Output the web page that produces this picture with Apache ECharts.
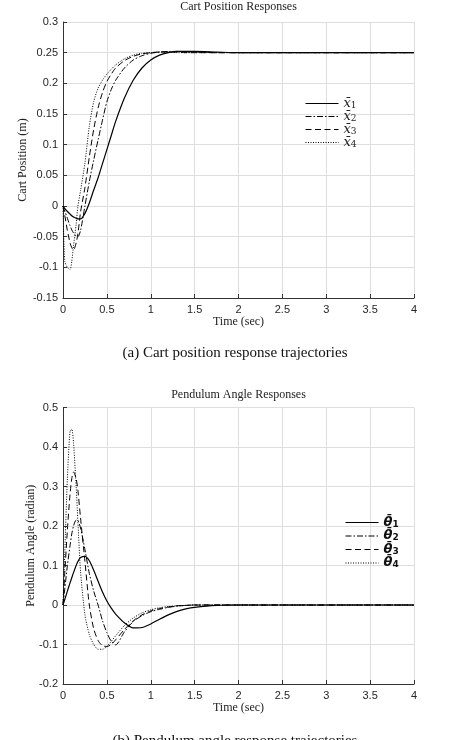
<!DOCTYPE html>
<html>
<head>
<meta charset="utf-8">
<script src="https://cdn.jsdelivr.net/npm/echarts@6/dist/echarts.min.js"></script>
<style>
  html, body { margin: 0; padding: 0; background: #fff; }
  #main { width: 460px; height: 740px; }
</style>
</head>
<body>
<div id="main"></div>
<script>
// time axis (sec) shared by all curves
const timeSec = [0, 0.02, 0.05, 0.08, 0.1, 0.12, 0.15, 0.17, 0.2, 0.25, 0.3, 0.35, 0.4, 0.45, 0.5, 0.55, 0.6, 0.7, 0.8, 0.9, 1.0, 1.1, 1.2, 1.3, 1.4, 1.5, 1.75, 2, 2.5, 3, 3.5, 4];

// cart position (m)
const cartX1 = [0, -0.004, -0.009, -0.013, -0.016, -0.018, -0.02, -0.021, -0.021, -0.012, 0.005, 0.026, 0.046, 0.069, 0.092, 0.115, 0.138, 0.176, 0.205, 0.225, 0.238, 0.246, 0.25, 0.252, 0.252, 0.252, 0.251, 0.25, 0.25, 0.25, 0.25, 0.25];
const cartX2 = [0, -0.008, -0.02, -0.032, -0.039, -0.044, -0.049, -0.05, -0.04, 0, 0.04, 0.075, 0.108, 0.14, 0.17, 0.19, 0.205, 0.225, 0.238, 0.245, 0.249, 0.251, 0.252, 0.252, 0.251, 0.251, 0.25, 0.25, 0.25, 0.25, 0.25, 0.25];
const cartX3 = [0, -0.015, -0.04, -0.06, -0.068, -0.072, -0.06, -0.045, -0.01, 0.03, 0.08, 0.125, 0.16, 0.185, 0.203, 0.215, 0.225, 0.237, 0.244, 0.248, 0.25, 0.251, 0.251, 0.251, 0.25, 0.25, 0.25, 0.25, 0.25, 0.25, 0.25, 0.25];
const cartX4 = [0, -0.09, -0.1, -0.104, -0.09, -0.065, -0.03, 0, 0.025, 0.07, 0.13, 0.17, 0.192, 0.205, 0.215, 0.223, 0.23, 0.24, 0.246, 0.249, 0.25, 0.251, 0.251, 0.25, 0.25, 0.25, 0.25, 0.25, 0.25, 0.25, 0.25, 0.25];

// pendulum angle (radian)
const angle1 = [0, 0.014, 0.035, 0.056, 0.069, 0.082, 0.1, 0.11, 0.12, 0.123, 0.112, 0.088, 0.06, 0.033, 0.01, -0.008, -0.023, -0.045, -0.058, -0.057, -0.048, -0.036, -0.025, -0.016, -0.01, -0.006, -0.001, 0, 0, 0, 0, 0];
const angle2 = [0, 0.04, 0.1, 0.15, 0.18, 0.2, 0.215, 0.214, 0.195, 0.14, 0.08, 0.035, 0, -0.04, -0.07, -0.092, -0.101, -0.068, -0.042, -0.027, -0.017, -0.011, -0.006, -0.003, -0.001, 0, 0, 0, 0, 0, 0, 0];
const angle3 = [0, 0.08, 0.19, 0.28, 0.32, 0.337, 0.32, 0.29, 0.22, 0.11, 0, -0.06, -0.09, -0.103, -0.105, -0.1, -0.088, -0.062, -0.04, -0.025, -0.015, -0.009, -0.005, -0.002, -0.001, 0, 0, 0, 0, 0, 0, 0];
const angle4 = [0, 0.13, 0.32, 0.44, 0.445, 0.41, 0.3, 0.21, 0.085, -0.025, -0.075, -0.1, -0.112, -0.112, -0.105, -0.092, -0.078, -0.052, -0.033, -0.02, -0.012, -0.007, -0.004, -0.002, -0.001, 0, 0, 0, 0, 0, 0, 0];

const cartNames = ['x̄1', 'x̄2', 'x̄3', 'x̄4'];
const angleNames = ['θ̄1', 'θ̄2', 'θ̄3', 'θ̄4'];

const axisColor = '#333';
const serif = 'Liberation Serif';
// solid, dash-dot, dashed, dotted
const lineTypes = ['solid', [6, 2, 1.5, 2], [6, 3.5], [1, 1.5]];

function pairs(ys) {
  return timeSec.map((t, i) => [t, ys[i]]);
}

function makeX(gridIndex) {
  return {
    gridIndex: gridIndex,
    type: 'value',
    min: 0,
    max: 4,
    interval: 0.5,
    name: 'Time (sec)',
    nameLocation: 'middle',
    nameGap: 18,
    nameMoveOverlap: false,
    nameTextStyle: { fontFamily: serif, fontSize: 12, color: '#222' },
    axisLine: { show: true, onZero: false, lineStyle: { color: axisColor, width: 1 } },
    axisTick: { show: true, inside: true, length: 4, lineStyle: { color: axisColor } },
    axisLabel: { margin: 6, fontFamily: 'Liberation Sans', fontSize: 11, color: '#262626' },
    splitLine: { show: true, lineStyle: { color: '#dedede', width: 1 } }
  };
}

function makeY(gridIndex, min, max, interval, name, gap) {
  return {
    gridIndex: gridIndex,
    type: 'value',
    min: min,
    max: max,
    interval: interval,
    name: name,
    nameLocation: 'middle',
    nameGap: gap,
    nameMoveOverlap: false,
    nameTextStyle: { fontFamily: serif, fontSize: 12, color: '#222' },
    axisLine: { show: true, onZero: false, lineStyle: { color: axisColor, width: 1 } },
    axisTick: { show: true, inside: true, length: 4, lineStyle: { color: axisColor } },
    axisLabel: {
      margin: 5, fontFamily: 'Liberation Sans', fontSize: 11, color: '#262626',
      formatter: (v) => String(Math.round(v * 100) / 100)
    },
    splitLine: { show: true, lineStyle: { color: '#dedede', width: 1 } }
  };
}

function makeSeries(names, datas, axisIndex) {
  return names.map((n, i) => ({
    name: n,
    type: 'line',
    xAxisIndex: axisIndex,
    yAxisIndex: axisIndex,
    data: pairs(datas[i]),
    symbol: 'none',
    smooth: 0.25,
    lineStyle: { color: '#000', width: i === 0 ? 1.2 : 1, type: lineTypes[i] },
    itemStyle: { color: '#000' }
  }));
}

const chart = echarts.init(document.getElementById('main'), null, { renderer: 'canvas' });

let option = {
  backgroundColor: '#fff',
  animation: false,
  title: [
    { text: 'Cart Position Responses', left: 238.5, top: 1, padding: 0, textAlign: 'center',
      textStyle: { fontFamily: serif, fontSize: 12, fontWeight: 'normal', color: '#222' } },
    { text: '(a) Cart position response trajectories', left: 230, top: 341, textAlign: 'center',
      textStyle: { fontFamily: serif, fontSize: 15, fontWeight: 'normal', color: '#111' } },
    { text: 'Pendulum Angle Responses', left: 238.5, top: 389, padding: 0, textAlign: 'center',
      textStyle: { fontFamily: serif, fontSize: 12, fontWeight: 'normal', color: '#222' } },
    { text: '(b) Pendulum angle response trajectories', left: 230, top: 729, textAlign: 'center',
      textStyle: { fontFamily: serif, fontSize: 15, fontWeight: 'normal', color: '#111' } }
  ],
  grid: [
    { left: 63, top: 22, width: 351, height: 276 },
    { left: 63, top: 407.5, width: 351, height: 276.5 }
  ],
  legend: [
    {
      data: cartNames,
      orient: 'vertical',
      left: 300,
      top: 92,
      itemWidth: 33,
      itemHeight: 10,
      itemGap: 0,
      itemStyle: { opacity: 0 },
      lineStyle: { width: 1 },
      formatter: (n) => '{b|x̄}{s|' + n.slice(-1) + '}',
      textStyle: {
        rich: {
          b: { fontFamily: 'DejaVu Serif', fontStyle: 'italic', fontSize: 13, lineHeight: 13, color: '#222' },
          s: { fontFamily: 'DejaVu Serif', fontSize: 9, lineHeight: 7, verticalAlign: 'bottom', color: '#222' }
        }
      }
    },
    {
      data: angleNames,
      orient: 'vertical',
      left: 340,
      top: 511,
      itemWidth: 33,
      itemHeight: 10,
      itemGap: 0.5,
      itemStyle: { opacity: 0 },
      lineStyle: { width: 1 },
      formatter: (n) => '{b|θ̄}{s|' + n.slice(-1) + '}',
      textStyle: {
        rich: {
          b: { fontFamily: 'DejaVu Sans', fontStyle: 'italic', fontWeight: 'bold', fontSize: 13, lineHeight: 13, color: '#111' },
          s: { fontFamily: 'DejaVu Sans', fontWeight: 'bold', fontSize: 9, lineHeight: 7, verticalAlign: 'bottom', color: '#111' }
        }
      }
    }
  ],
  xAxis: [makeX(0), makeX(1)],
  yAxis: [
    makeY(0, -0.15, 0.3, 0.05, 'Cart Position (m)', 34),
    makeY(1, -0.2, 0.5, 0.1, 'Pendulum Angle (radian)', 26)
  ],
  series: makeSeries(cartNames, [cartX1, cartX2, cartX3, cartX4], 0)
    .concat(makeSeries(angleNames, [angle1, angle2, angle3, angle4], 1))
};

chart.setOption(option);
</script>
</body>
</html>
